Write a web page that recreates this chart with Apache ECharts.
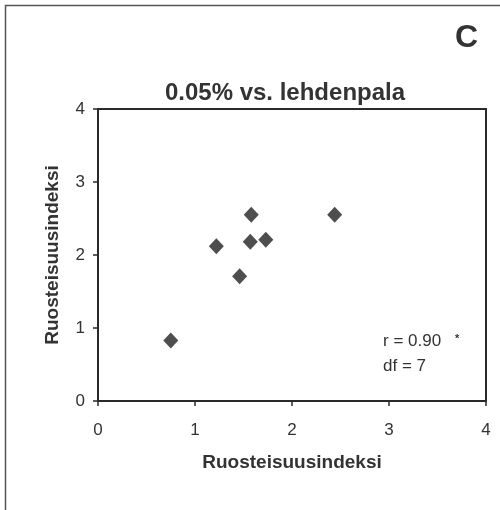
<!DOCTYPE html>
<html>
<head>
<meta charset="utf-8">
<script src="https://cdn.jsdelivr.net/npm/echarts@6/dist/echarts.min.js"></script>
<style>
  html, body { margin: 0; padding: 0; background: #fff; }
  #chart { width: 500px; height: 510px; }
</style>
</head>
<body>
<div id="chart"></div>
<script>
// Rust index pairs: 0.05% treatment (x) vs. leaf-disc test (y)
const xValues = [0.75, 1.22, 1.58, 1.57, 1.73, 1.46, 2.44];
const yValues = [0.83, 2.12, 2.55, 2.18, 2.21, 1.71, 2.55];
const axisTicks = [0, 1, 2, 3, 4];
const titleText = '0.05% vs. lehdenpala';
const panelLetter = 'C';
const axisName = 'Ruosteisuusindeksi';
const statLines = ['r = 0.90', 'df = 7'];

const points = xValues.map((x, i) => [x, yValues[i]]);
const ink = '#2a2a2a';
const font = 'Liberation Sans, Arial, Helvetica, sans-serif';

const chart = echarts.init(document.getElementById('chart'), null, { renderer: 'canvas' });

const axisCommon = {
  type: 'value',
  min: axisTicks[0],
  max: axisTicks[axisTicks.length - 1],
  interval: 1,
  splitLine: { show: false },
  axisLine: { show: true, lineStyle: { color: ink, width: 2 } },
  axisTick: { show: true, inside: false, length: 5, lineStyle: { color: ink, width: 1.5 } },
  axisLabel: { color: '#333', fontSize: 17, fontFamily: font },
  nameLocation: 'middle',
  nameTextStyle: { color: '#333', fontSize: 19, fontWeight: 'bold', fontFamily: font }
};

chart.setOption({
  animation: false,
  backgroundColor: '#fff',
  grid: {
    left: 98, right: 14, top: 109, bottom: 109,
    show: true, borderColor: ink, borderWidth: 2, backgroundColor: 'transparent'
  },
  xAxis: Object.assign({}, axisCommon, {
    name: axisName,
    nameGap: 52,
    axisLabel: Object.assign({}, axisCommon.axisLabel, { margin: 21 })
  }),
  yAxis: Object.assign({}, axisCommon, {
    name: axisName,
    nameGap: 36,
    axisLabel: Object.assign({}, axisCommon.axisLabel, { margin: 13 })
  }),
  title: {
    text: titleText,
    left: 280,
    top: 76,
    textAlign: 'center',
    textStyle: { color: '#333', fontSize: 24, fontWeight: 'bold', fontFamily: font }
  },
  graphic: [
    {
      type: 'rect',
      left: 3, top: 3,
      shape: { x: 0, y: 0, width: 600, height: 600 },
      style: { fill: 'none', stroke: '#555', lineWidth: 1.5 },
      silent: true
    },
    {
      type: 'text',
      left: 455, top: 22,
      style: { text: panelLetter, fill: '#333', font: 'bold 32px ' + font }
    },
    {
      type: 'text',
      left: 383, top: 333,
      style: { text: statLines[0], fill: '#333', font: '17px ' + font }
    },
    {
      type: 'text',
      left: 455, top: 333,
      style: { text: '*', fill: '#333', font: 'bold 11px ' + font }
    },
    {
      type: 'text',
      left: 383, top: 358,
      style: { text: statLines[1], fill: '#333', font: '17px ' + font }
    }
  ],
  series: [{
    type: 'scatter',
    data: points,
    symbol: 'diamond',
    symbolSize: [15, 16],
    itemStyle: { color: '#222' }
  }]
});
</script>
</body>
</html>
